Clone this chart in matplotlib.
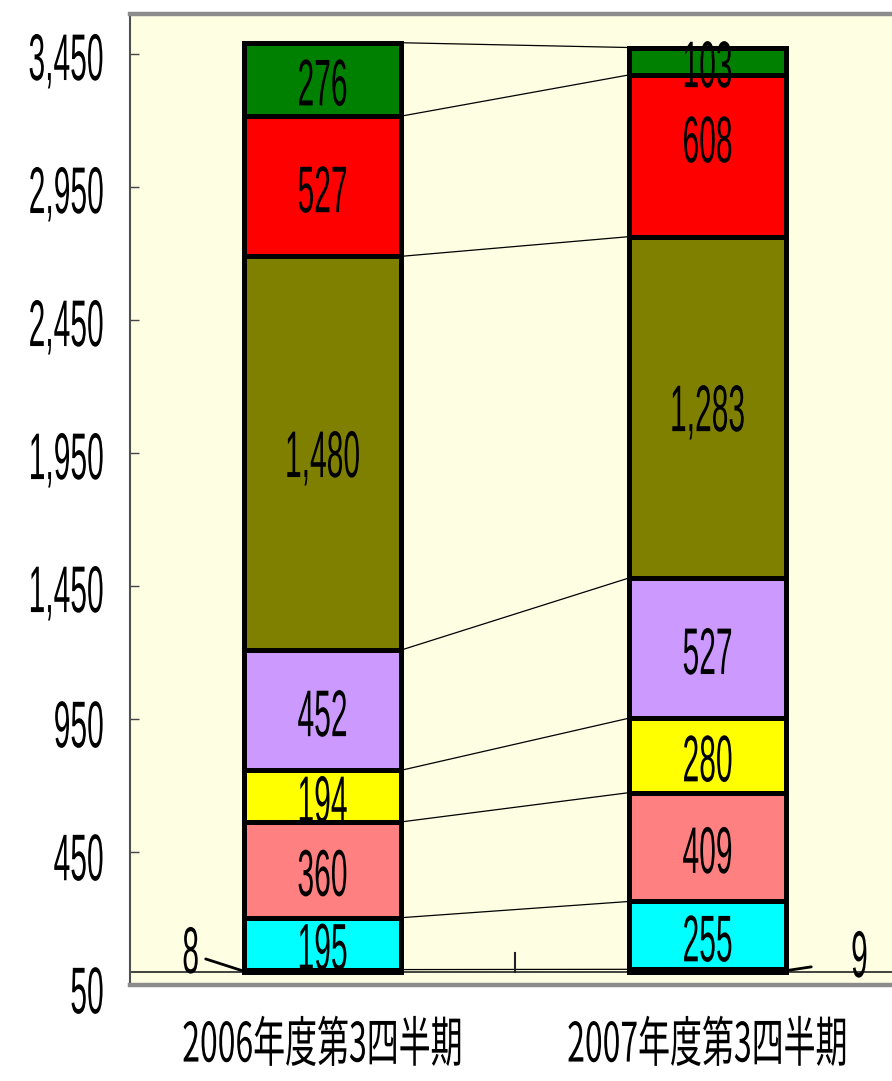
import matplotlib
matplotlib.use("Agg")
import matplotlib.pyplot as plt
import numpy as np
from matplotlib.patheffects import AbstractPathEffect
from matplotlib.transforms import Affine2D

# ---------------- data ----------------
categories = ["2006年度第3四半期", "2007年度第3四半期"]
values_2006 = [8, 195, 360, 194, 452, 1480, 527, 276]
values_2007 = [9, 255, 409, 280, 527, 1283, 608, 103]
segment_colors = ["#000000", "#00FFFF", "#FF8080", "#FFFF00",
                  "#CC99FF", "#808000", "#FF0000", "#008000"]
ytick_values = [-50, 450, 950, 1450, 1950, 2450, 2950, 3450]
ytick_labels = ["50", "450", "950", "1,450", "1,950", "2,450", "2,950", "3,450"]


# ------------- condensed-text effect (vertical stretch of real text) -------------
class VStretch(AbstractPathEffect):
    def __init__(self, sy=2.2, sx=1.0, dy=0.0):
        super().__init__()
        self.sy = sy
        self.sx = sx
        self.dy = dy  # points, negative = down

    def draw_path(self, renderer, gc, tpath, affine, rgbFace=None):
        ext = tpath.get_extents(affine)
        cx = 0.5 * (ext.x0 + ext.x1)
        cy = 0.5 * (ext.y0 + ext.y1)
        t = (affine + Affine2D().translate(-cx, -cy).scale(self.sx, self.sy)
             .translate(cx, cy + renderer.points_to_pixels(self.dy)))
        renderer.draw_path(gc, tpath, t, rgbFace)


NUM_FONT = "Liberation Sans"
CJK_FONT = ["Noto Sans CJK JP", "DejaVu Sans"]
FS = 21.6
stretch = VStretch(sy=2.2)
stretch_tick = VStretch(sy=2.2, dy=-3.5)
stretch_cjk = VStretch(sy=1.7)

W = 0.408
fig = plt.figure(figsize=(8.92, 10.81), dpi=100)
ax = fig.add_axes([130 / 892, 96 / 1081, 770 / 892, 971 / 1081])
ax.set_facecolor("#FEFEE3")

data = np.array([values_2006, values_2007], dtype=float)
x = np.arange(len(categories))

bottoms = np.zeros(len(categories))
seg_bottoms = []
for j in range(data.shape[1]):
    ax.bar(x, data[:, j], width=W, bottom=bottoms, color=segment_colors[j],
           edgecolor="black", linewidth=3.6, zorder=3)
    seg_bottoms.append(bottoms.copy())
    bottoms = bottoms + data[:, j]

# series lines between the stacks
cum = data.cumsum(axis=1)
for k in range(data.shape[1]):
    ax.plot([x[0] + W / 2, x[1] - W / 2], [cum[0, k], cum[1, k]],
            color="black", lw=0.9, zorder=2)

# zero line (category axis) and the between-category tick
ax.axhline(0, color="#222222", lw=1.2, zorder=2.5)
ax.plot([0.5, 0.5], [0, 72], color="#222222", lw=1.5, zorder=2.5)

# data labels
nudge = {(1, 6): 14}
for j in range(1, data.shape[1]):
    for i in range(len(categories)):
        v = data[i, j]
        yc = seg_bottoms[j][i] + v / 2
        ax.annotate(f"{int(v):,}", xy=(x[i], yc), xytext=(0, -4 + nudge.get((i, j), 0)),
                    textcoords="offset points", ha="center", va="center",
                    fontsize=FS, family=NUM_FONT, color="black",
                    path_effects=[stretch], zorder=6)

# small bottom values with leader lines
ax.annotate(f"{int(data[0, 0]):,}", xy=(x[0] - W / 2 - 0.005, data[0, 0] / 2),
            xytext=(-37, 13), textcoords="offset points", ha="center", va="center",
            fontsize=FS, family=NUM_FONT, path_effects=[stretch], zorder=6,
            arrowprops=dict(arrowstyle="-", color="black", lw=2.0,
                            shrinkA=3, shrinkB=0, relpos=(1.0, 0.35)))
ax.annotate(f"{int(data[1, 0]):,}", xy=(x[1] + W / 2 + 0.003, data[1, 0] / 2),
            xytext=(52, 10), textcoords="offset points", ha="center", va="center",
            fontsize=FS, family=NUM_FONT, path_effects=[stretch], zorder=6,
            arrowprops=dict(arrowstyle="-", color="black", lw=2.0,
                            shrinkA=27, shrinkB=0, relpos=(0.0, 0.35)))

# axes limits and ticks
ax.set_xlim(-0.5, 1.5)
ax.set_ylim(-50, 3600)
ax.set_yticks(ytick_values)
ax.set_yticklabels(ytick_labels)
ax.tick_params(axis="y", direction="in", length=6.5, width=1, color="#444444", pad=19)
for lab in ax.get_yticklabels():
    lab.set_fontsize(FS)
    lab.set_family(NUM_FONT)
    lab.set_path_effects([stretch_tick])

ax.set_xticks(x)
ax.set_xticklabels(categories)
ax.tick_params(axis="x", length=0, pad=31)
for lab in ax.get_xticklabels():
    lab.set_fontsize(23)
    lab.set_family(CJK_FONT)
    lab.set_path_effects([stretch_cjk])

# frame
ax.spines["right"].set_visible(False)
ax.spines["left"].set_color("#505050")
ax.spines["left"].set_linewidth(1.5)
ax.spines["top"].set_color("#8C8C8C")
ax.spines["top"].set_linewidth(3.2)
ax.spines["bottom"].set_color("#8C8C8C")
ax.spines["bottom"].set_linewidth(3.2)

fig.savefig("out.png", dpi=100, facecolor="white")
